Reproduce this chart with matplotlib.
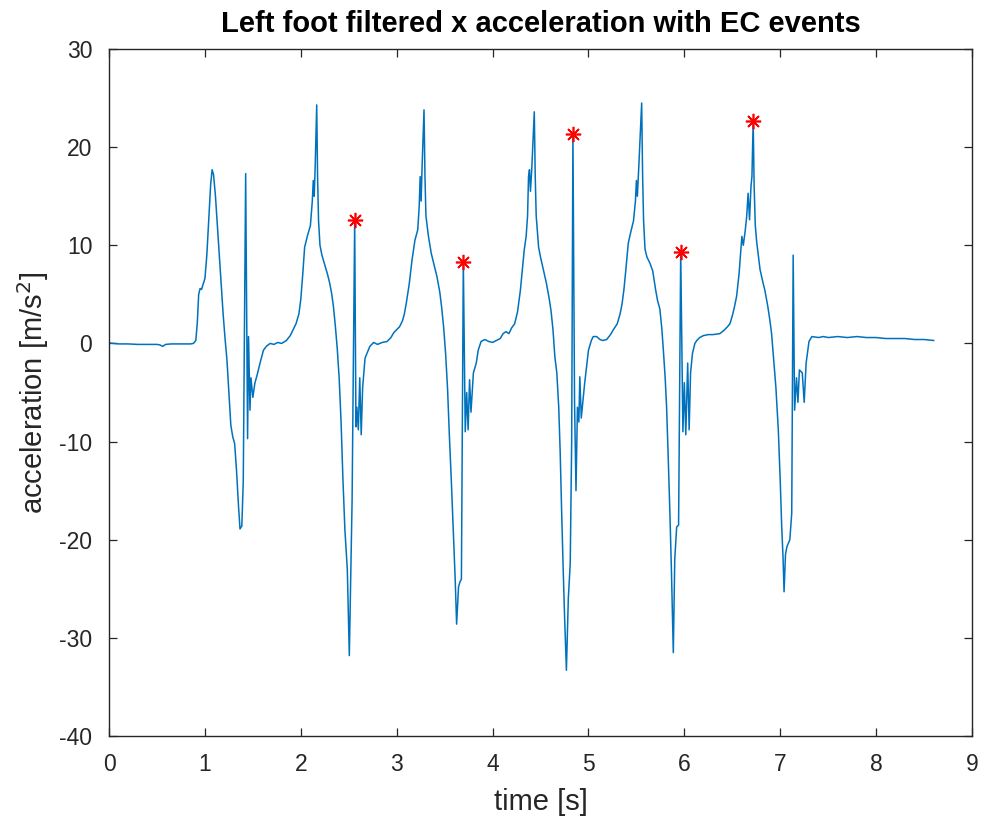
import matplotlib
matplotlib.use("Agg")
import matplotlib.pyplot as plt
import numpy as np

plt.rcParams['font.family'] = ['Liberation Sans', 'DejaVu Sans']
plt.rcParams['axes.unicode_minus'] = False

# ---- digitised signal, split by stride (time [s], acceleration [m/s^2]) ----
rest_start_t = [0.00, 0.10, 0.20, 0.30, 0.40, 0.50, 0.53, 0.56, 0.59, 0.65, 0.75, 0.85, 0.88]
rest_start_a = [0.05, -0.05, -0.05, -0.1, -0.1, -0.1, -0.15, -0.3, -0.1, -0.05, -0.05, -0.05, 0.0]

stride1_t = [0.905, 0.92, 0.935, 0.95, 0.965, 0.98, 1.00, 1.02, 1.04, 1.06, 1.075, 1.09, 1.11, 1.13,
             1.15, 1.17, 1.19, 1.21, 1.23, 1.25, 1.27, 1.29, 1.31, 1.33, 1.35, 1.366, 1.385, 1.40,
             1.425, 1.445, 1.455, 1.47, 1.48, 1.50, 1.52, 1.55, 1.575, 1.61, 1.64]
stride1_a = [0.3, 2.0, 5.0, 5.6, 5.5, 6.0, 6.6, 9.0, 12.5, 16.2, 17.7, 17.2, 15.0, 12.0,
             9.0, 6.0, 3.0, 0.5, -1.7, -5.0, -8.3, -9.5, -10.2, -13.0, -16.5, -18.9, -18.6, -14.0,
             17.3, -9.7, 0.7, -6.8, -3.5, -5.5, -4.1, -3.0, -2.0, -0.7, -0.3]

stride2_t = [1.68, 1.72, 1.76, 1.80, 1.85, 1.89, 1.92, 1.95, 1.98, 2.00, 2.02, 2.04, 2.07, 2.10,
             2.12, 2.13, 2.14, 2.15, 2.166, 2.175, 2.185, 2.20, 2.22, 2.25, 2.28, 2.30, 2.32, 2.34,
             2.36, 2.38, 2.40, 2.42, 2.44, 2.46, 2.475, 2.485, 2.495, 2.506, 2.535, 2.562, 2.575,
             2.585, 2.60, 2.615, 2.63, 2.645, 2.67, 2.72]
stride2_a = [0.0, -0.1, 0.1, 0.0, 0.3, 0.8, 1.4, 2.0, 3.0, 4.5, 7.0, 9.8, 11.0, 12.0,
             14.5, 16.6, 15.0, 18.0, 24.3, 17.0, 12.5, 10.0, 9.0, 8.0, 7.0, 6.2, 5.2, 3.8,
             1.8, -0.5, -3.5, -8.0, -14.0, -19.0, -21.5, -23.0, -27.0, -31.8, -16.0, 12.6, -8.5,
             -6.5, -8.8, -3.5, -9.3, -4.5, -1.5, -0.3]

stride3_t = [2.76, 2.80, 2.85, 2.90, 2.94, 2.97, 3.00, 3.03, 3.06, 3.08, 3.10, 3.13, 3.16, 3.19,
             3.22, 3.235, 3.245, 3.255, 3.265, 3.285, 3.295, 3.305, 3.33, 3.36, 3.39, 3.42, 3.45,
             3.47, 3.49, 3.51, 3.53, 3.55, 3.57, 3.59, 3.61, 3.625, 3.645, 3.66, 3.675, 3.695,
             3.715, 3.73, 3.745, 3.76, 3.775, 3.80, 3.83, 3.85]
stride3_a = [0.1, -0.1, 0.1, 0.2, 0.6, 1.1, 1.4, 1.7, 2.3, 3.0, 4.1, 6.0, 8.5, 10.5,
             11.6, 14.0, 17.0, 14.5, 18.0, 23.8, 17.0, 13.0, 11.0, 9.2, 8.0, 6.8, 5.2,
             3.6, 1.6, -1.0, -4.5, -9.5, -14.0, -19.0, -24.0, -28.6, -24.8, -24.3, -24.0, 8.3,
             -9.0, -5.0, -8.8, -3.7, -7.0, -3.0, -2.0, -0.7]

stride4_t = [3.88, 3.92, 3.96, 4.00, 4.04, 4.08, 4.11, 4.14, 4.17, 4.20, 4.23, 4.26, 4.29, 4.31,
             4.33, 4.35, 4.365, 4.375, 4.385, 4.395, 4.41, 4.435, 4.445, 4.455, 4.48, 4.50, 4.53,
             4.56, 4.59, 4.61, 4.63, 4.65, 4.67, 4.69, 4.705, 4.72, 4.735, 4.75, 4.77, 4.79, 4.81,
             4.825, 4.838, 4.855, 4.87, 4.885, 4.90, 4.91, 4.925, 4.96, 5.00]
stride4_a = [0.2, 0.4, 0.2, 0.1, 0.3, 0.5, 1.0, 1.2, 1.0, 1.6, 2.0, 3.2, 5.4, 7.5,
             9.5, 10.9, 13.0, 17.0, 17.7, 15.5, 18.0, 23.6, 17.0, 13.0, 9.8, 8.8, 7.5,
             6.2, 4.6, 3.3, 1.4, -1.4, -3.0, -6.5, -11.0, -17.0, -22.5, -27.5, -33.3, -26.0, -22.4,
             -10.0, 21.3, -6.0, -15.0, -6.5, -8.0, -3.4, -7.6, -4.1, -0.7]

stride5_t = [5.03, 5.05, 5.085, 5.12, 5.15, 5.19, 5.23, 5.26, 5.30, 5.33, 5.35, 5.37, 5.39, 5.415,
             5.44, 5.47, 5.49, 5.50, 5.51, 5.525, 5.555, 5.565, 5.575, 5.59, 5.61, 5.64, 5.67,
             5.70, 5.72, 5.745, 5.765, 5.78, 5.80, 5.815, 5.83, 5.85, 5.865, 5.885, 5.90, 5.92,
             5.94, 5.962, 5.985, 6.00, 6.015, 6.035, 6.05, 6.065, 6.085]
stride5_a = [0.3, 0.7, 0.7, 0.4, 0.3, 0.4, 0.9, 1.4, 2.0, 3.0, 4.0, 5.5, 7.5, 10.2,
             11.3, 12.5, 14.5, 16.6, 15.0, 18.0, 24.5, 17.0, 12.5, 9.6, 8.8, 8.2, 7.4,
             5.5, 4.4, 3.5, 1.5, -0.5, -3.5, -6.5, -11.0, -17.5, -23.0, -31.5, -22.0, -18.7,
             -18.5, 9.3, -9.0, -4.0, -9.3, -2.0, -8.8, -3.0, -1.0]

stride6_t = [6.11, 6.13, 6.16, 6.20, 6.25, 6.30, 6.37, 6.41, 6.45, 6.475, 6.50, 6.52, 6.545, 6.57,
             6.60, 6.615, 6.635, 6.65, 6.665, 6.68, 6.695, 6.705, 6.718, 6.728, 6.74, 6.755, 6.79,
             6.82, 6.84, 6.87, 6.89, 6.91, 6.93, 6.955, 6.98, 7.00, 7.015, 7.03, 7.04, 7.055, 7.07,
             7.10, 7.12, 7.135, 7.15, 7.17, 7.185, 7.20, 7.23, 7.25, 7.27, 7.30]
stride6_a = [0.0, 0.3, 0.6, 0.8, 0.9, 0.9, 1.0, 1.3, 1.7, 2.0, 2.8, 3.6, 4.8, 7.0,
             10.9, 10.0, 11.5, 12.9, 15.3, 12.6, 16.0, 17.0, 22.7, 16.0, 12.0, 10.3, 7.5,
             6.2, 5.4, 3.8, 2.5, 1.0, -1.4, -4.5, -8.8, -14.0, -18.5, -22.0, -25.3, -21.5, -20.7,
             -20.0, -17.3, 9.0, -6.8, -3.5, -6.0, -2.7, -3.0, -6.0, -2.0, 0.2]

rest_end_t = [7.33, 7.40, 7.45, 7.50, 7.60, 7.70, 7.80, 7.90, 8.00, 8.10, 8.20, 8.30, 8.40, 8.50, 8.60]
rest_end_a = [0.7, 0.6, 0.7, 0.6, 0.7, 0.6, 0.7, 0.6, 0.6, 0.5, 0.5, 0.5, 0.4, 0.4, 0.3]

# EC events
ec_time = [2.562, 3.695, 4.838, 5.962, 6.718]
ec_accel = [12.6, 8.3, 21.3, 9.3, 22.7]

x_ticks = [0, 1, 2, 3, 4, 5, 6, 7, 8, 9]
y_ticks = [-40, -30, -20, -10, 0, 10, 20, 30]

time_s = np.concatenate([rest_start_t, stride1_t, stride2_t, stride3_t, stride4_t,
                         stride5_t, stride6_t, rest_end_t])
accel_x = np.concatenate([rest_start_a, stride1_a, stride2_a, stride3_a, stride4_a,
                          stride5_a, stride6_a, rest_end_a])

fig = plt.figure(figsize=(9.84, 8.19), dpi=100)
ax = fig.add_axes([0.1108, 0.1013, 0.8770, 0.8389])

ax.plot(time_s, accel_x, color='#0072BD', lw=1.1)
ax.plot(ec_time, ec_accel, linestyle='none', marker=(8, 2, 0), color='#FF0000',
        markersize=11, markeredgewidth=1.2)

ax.set_xlim(0, 9)
ax.set_ylim(-40, 30)
ax.set_xticks(x_ticks)
ax.set_yticks(y_ticks)
ax.set_xticklabels([str(v) for v in x_ticks])
ax.set_yticklabels([str(v) for v in y_ticks])

axis_col = '#262626'
for s in ax.spines.values():
    s.set_color(axis_col)
    s.set_linewidth(1.0)
ax.tick_params(direction='in', length=6, width=0.9, color=axis_col, labelcolor=axis_col,
               labelsize=16.5, top=True, right=True)
ax.tick_params(axis='x', pad=12)
ax.tick_params(axis='y', pad=12)

ax.set_title('Left foot filtered x acceleration with EC events', fontsize=21, fontweight='bold',
             color='#000000', pad=12)
ax.set_xlabel('time [s]', fontsize=21, color=axis_col, labelpad=9)
ax.set_ylabel('acceleration [m/s$^2$]', fontsize=21, color=axis_col, labelpad=6)

fig.savefig('out.png', dpi=100, facecolor='white')
